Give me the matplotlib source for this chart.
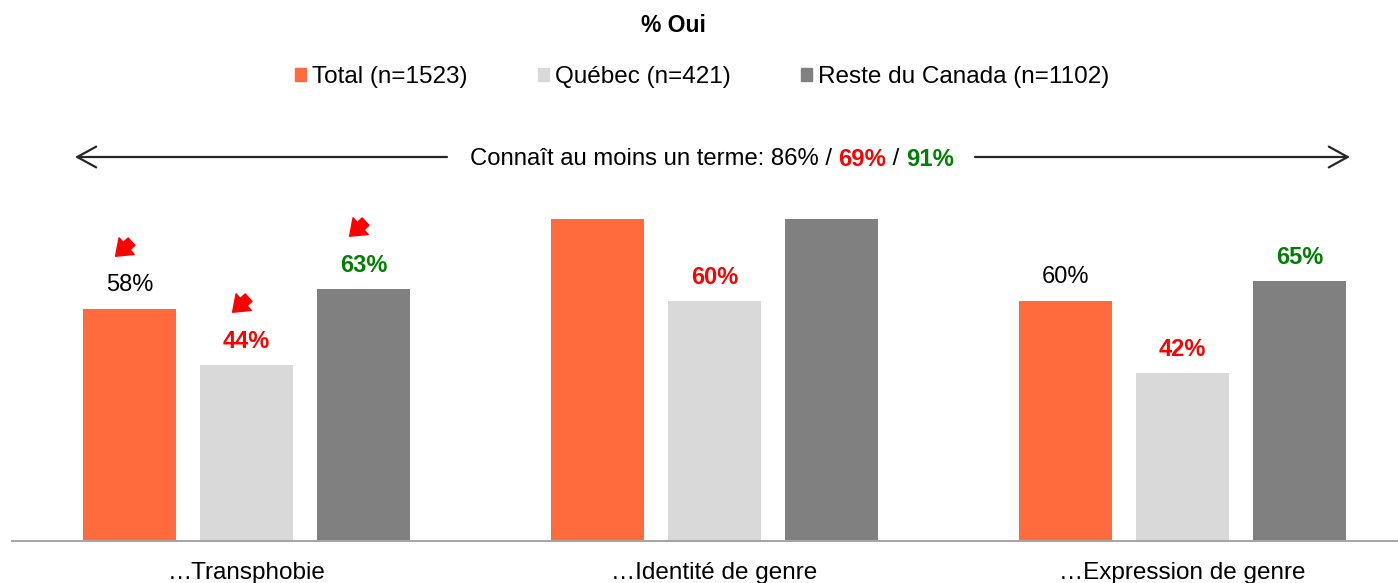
import matplotlib
matplotlib.use("Agg")
import matplotlib.pyplot as plt
import numpy as np
from matplotlib.patches import Patch
from matplotlib.transforms import offset_copy

plt.rcParams['font.family'] = ['Liberation Sans', 'DejaVu Sans']

categories = ["…Transphobie", "…Identité de genre", "…Expression de genre"]
series = ["Total (n=1523)", "Québec (n=421)", "Reste du Canada (n=1102)"]
total = [58, 80.5, 60]
quebec = [44, 60, 42]
roc = [63, 80.5, 65]
# label text per bar ('' = not shown), and its style
labels = [["58%", "", "60%"], ["44%", "60%", "42%"], ["63%", "", "65%"]]
label_col = [["black", "", "black"], ["red", "red", "red"], ["green", "", "green"]]
arrows_down = [[True, False, False], [True, False, False], [True, False, False]]

colors = ["#FF6B3D", "#D9D9D9", "#808080"]

W, H = 1398, 583
fig = plt.figure(figsize=(W / 100, H / 100), dpi=100)
ax = fig.add_axes([12 / W, 42 / H, 1 - 12 / W, (541 - 219) / H])

x = np.arange(len(categories))
width = 0.199
offsets = [-0.25, 0, 0.25]
for i, vals in enumerate([total, quebec, roc]):
    ax.bar(x + offsets[i], vals, width, color=colors[i], label=series[i])
    for j, v in enumerate(vals):
        if labels[i][j]:
            bold = label_col[i][j] != "black"
            ax.annotate(labels[i][j], (x[j] + offsets[i], v), xytext=(0, 17),
                        textcoords="offset points", ha="center", va="center",
                        fontsize=17, color=label_col[i][j],
                        fontweight="bold" if bold else "normal")
        if arrows_down[i][j]:
            tr = offset_copy(ax.transData, fig=fig, x=-10, y=38, units="points")
            ax.annotate("", xy=(x[j] + offsets[i], v), xycoords=tr,
                        xytext=(11.5, 10.5), textcoords="offset points",
                        arrowprops=dict(arrowstyle="simple,head_length=0.6,head_width=0.9,tail_width=0.4",
                                        color="red", shrinkA=0, shrinkB=0, mutation_scale=18))

ax.set_xlim((12 - 246.5) / 468, (1398 - 246.5) / 468)
ax.set_ylim(0, 80.5)
ax.set_xticks(x)
ax.set_xticklabels(categories, fontsize=17.5)
ax.tick_params(axis="x", length=0, pad=15)
ax.set_yticks([])
for s in ["top", "right", "left"]:
    ax.spines[s].set_visible(False)
ax.spines["bottom"].set_color("#A6A6A6")
ax.spines["bottom"].set_linewidth(1.5)

# title
fig.text(673 / W, 1 - 26 / H, "% Oui", ha="center", va="center", fontsize=16.5, fontweight="bold")

# legend
handles = [Patch(color=c) for c in colors]
fig.legend(handles, series, loc="center", bbox_to_anchor=(702 / W, 1 - 77 / H), ncol=3,
           frameon=False, fontsize=17.5, handlelength=0.45, handleheight=0.45,
           handletextpad=0.25, columnspacing=2.9)

# arrow line across with centered mixed-colour text
ya = 1 - 157 / H
for x0, x1 in [(447, 75), (975, 1350)]:
    ax.annotate("", xy=(x1 / W, ya), xytext=(x0 / W, ya), xycoords="figure fraction",
                textcoords="figure fraction",
                arrowprops=dict(arrowstyle="->,head_length=0.4,head_width=0.22", color="#262626", lw=1.6,
                                mutation_scale=34, shrinkA=0, shrinkB=0))

parts = [("Connaît au moins un terme: 86% / ", "black", "normal"),
         ("69%", "red", "bold"),
         (" / ", "black", "normal"),
         ("91%", "green", "bold")]
renderer = fig.canvas.get_renderer()
texts = []
for s, c, w in parts:
    t = fig.text(0, 1 - 159 / H, s, color=c, fontweight=w, fontsize=17.2, ha="left", va="center")
    texts.append(t)
widths = [t.get_window_extent(renderer).width for t in texts]
start = 712 - sum(widths) / 2
for t, wd in zip(texts, widths):
    t.set_x(start / W)
    start += wd

fig.savefig("out.png", dpi=100)
